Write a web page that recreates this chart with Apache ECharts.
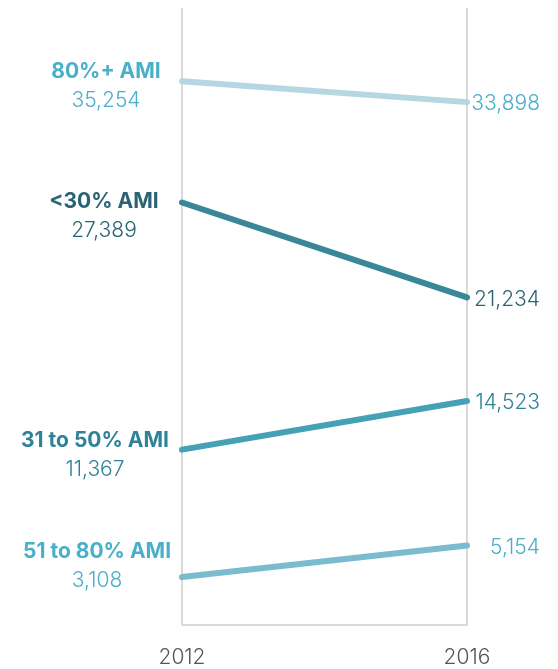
<!DOCTYPE html>
<html><head><meta charset="utf-8">
<script src="https://cdn.jsdelivr.net/npm/echarts@6/dist/echarts.min.js"></script>
<style>html,body{margin:0;padding:0;background:#fff}#c{width:558px;height:669px}</style>
</head><body><div id="c"></div>
<script>
var years = [2012, 2016];
var names = ['80%+ AMI', '<30% AMI', '31 to 50% AMI', '51 to 80% AMI'];
var v2012 = [35254, 27389, 11367, 3108];
var v2016 = [33898, 21234, 14523, 5154];
var lineColors = ['#b5d7e1', '#3a8799', '#45a1b6', '#7abbcd'];
var textColors = ['#4aafc9', '#2a6474', '#2f8297', '#4aafc9'];
var leftOffsets = [[-76, 4.5], [-78, 13.5], [-87, 5.5], [-85, -11]];
var fontFam = 'Inter, "Open Sans", sans-serif';
function fmt(v){ return v.toLocaleString('en-US'); }

var series = names.map(function(n, i){
  return {
    type: 'line',
    silent: true,
    symbol: 'circle',
    symbolSize: 0.1,
    showSymbol: true,
    itemStyle: {color: 'rgba(0,0,0,0)', borderWidth: 0},
    lineStyle: {color: lineColors[i], width: 6, cap: 'round'},
    label: {show: true},
    data: [
      {value: [years[0], v2012[i]],
       label: {show: true, position: 'inside', align: 'center', verticalAlign: 'middle',
         offset: leftOffsets[i],
         formatter: '{n|' + n + '}\n{v|' + fmt(v2012[i]) + '}',
         rich: {
           n: {fontFamily: fontFam, fontWeight: 'bold', fontSize: 21, color: textColors[i], lineHeight: 29, align: 'center'},
           v: {fontFamily: fontFam, fontWeight: 300, fontSize: 21, color: textColors[i], lineHeight: 29, align: 'center'}
         }}},
      {value: [years[1], v2016[i]],
       label: {show: true, position: 'inside', align: 'right', verticalAlign: 'middle',
         offset: [73, 2],
         formatter: fmt(v2016[i]),
         fontFamily: fontFam, fontWeight: 300, fontSize: 21, color: textColors[i]}}
    ]
  };
});

var chart = echarts.init(document.getElementById('c'));
chart.setOption({
  animation: false,
  grid: {left: 182, right: 91, top: 8, bottom: 44, containLabel: false},
  xAxis: {
    type: 'value', min: 2012, max: 2016, interval: 4,
    axisLine: {show: true, lineStyle: {color: '#d9d9d9', width: 2}},
    axisTick: {show: false},
    splitLine: {show: true, lineStyle: {color: '#d9d9d9', width: 2}},
    axisLabel: {show: true, margin: 22, fontFamily: fontFam, fontSize: 21, fontWeight: 300, color: '#555555',
      formatter: function(v){ return String(v); }}
  },
  yAxis: {
    type: 'value', min: 0, max: 40000,
    show: false, splitLine: {show: false}
  },
  series: series
});
</script></body></html>
